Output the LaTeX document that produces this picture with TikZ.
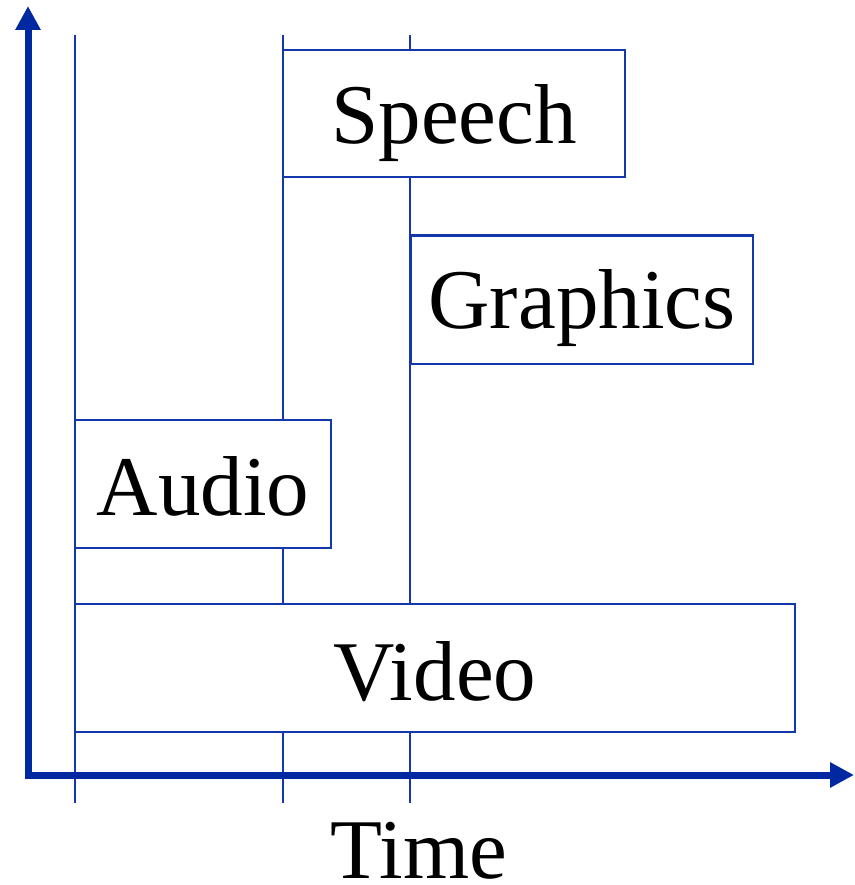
\documentclass[tikz,border=0pt]{standalone}
\usepackage{fontspec}
\setmainfont{Liberation Serif}
\usetikzlibrary{arrows.meta}
\definecolor{axisblue}{RGB}{0,40,160}
\definecolor{lineblue}{RGB}{20,55,170}
\begin{document}
\begin{tikzpicture}[x=1pt,y=-1pt,
  guide/.style={draw=lineblue,line width=2pt},
  mbox/.style={draw=lineblue,line width=2pt,fill=white,inner sep=0pt,anchor=north,
    font=\fontsize{85}{100}\selectfont},
  axis/.style={draw=axisblue,line width=7pt,-{Triangle[length=24pt,width=24pt]}}]
\useasboundingbox (0,0) rectangle (854,885);
% guide lines
\coordinate (g1t) at (75,35);  \coordinate (g1b) at (75,803);
\coordinate (g2t) at (283,35); \coordinate (g2b) at (283,803);
\coordinate (g3t) at (410,35); \coordinate (g3b) at (410,803);
\draw[guide] (g1t) -- (g1b);
\draw[guide] (g2t) -- (g2b);
\draw[guide] (g3t) -- (g3b);
% boxes
\node[mbox,minimum width=342pt,text height=93pt,text depth=34pt] (speech) at (454,49.5) {Speech};
\node[mbox,minimum width=342pt,text height=93pt,text depth=35pt] (graphics) at (582,234.5) {Graphics};
\node[mbox,minimum width=256pt,text height=96pt,text depth=32pt] (audio) at (203,418.5) {Audio};
\node[mbox,minimum width=720pt,text height=97pt,text depth=31pt] (video) at (435,602.5) {Video};
% axes
\coordinate (origin) at (28,775);
\coordinate (ytip) at (28,6);
\coordinate (xtip) at (854,775);
\draw[axis] ([yshift=3.5pt]origin) -- (ytip);
\draw[axis] ([xshift=-3.5pt]origin) -- (xtip);
\node[anchor=base,inner sep=0pt,font=\fontsize{85}{100}\selectfont] (time) at (419,878) {Time};
\end{tikzpicture}
\end{document}
